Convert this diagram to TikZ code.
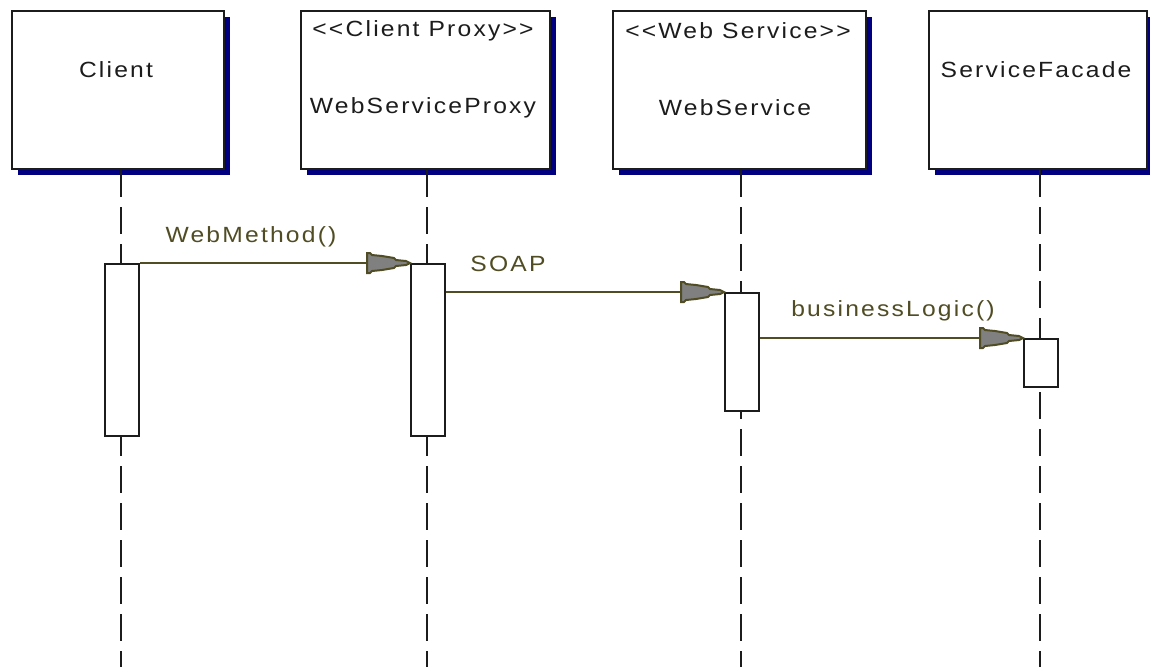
\documentclass[tikz,border=0pt]{standalone}
\usepackage{fontspec}
\newfontfamily\diafont[LetterSpace=10, FakeStretch=1.12]{Liberation Sans}
\usetikzlibrary{shadows}
\definecolor{shadowblue}{RGB}{0,0,128}
\definecolor{msgolive}{RGB}{80,77,36}
\definecolor{headgray}{RGB}{128,128,128}
\definecolor{ink}{RGB}{28,28,28}
\tikzset{
  objbox/.style={draw=ink, line width=2pt, fill=white, anchor=north west,
    inner sep=0pt, drop shadow={shadow xshift=6pt, shadow yshift=-6pt,
    fill=shadowblue, opacity=1}},
  objtext/.style={text=ink, font=\diafont\fontsize{22}{26}\selectfont, inner sep=0pt},
  msgtext/.style={text=msgolive, font=\diafont\fontsize{22}{26}\selectfont, inner sep=0pt},
  lifeline/.style={draw=ink, line width=2pt, dash pattern=on 27pt off 10pt},
  actbox/.style={draw=ink, line width=2pt, fill=white, anchor=north west,
    inner sep=0pt, minimum width=34pt},
  msgline/.style={draw=msgolive, line width=2pt},
  msghead/.pic={
    \filldraw[fill=headgray, draw=msgolive, line width=2pt, line join=miter]
      (0,0) -- (-4,-2) -- (-14,-3) -- (-16,-5) -- (-28,-7) -- (-38,-8)
      -- (-40,-10) -- (-43,-10) -- (-43,10) -- (-40,10) -- (-38,8)
      -- (-28,7) -- (-16,5) -- (-14,3) -- (-4,2) -- cycle;
  }
}
\begin{document}
\begin{tikzpicture}[x=1pt, y=-1pt]
\useasboundingbox[fill=white] (0,0) rectangle (1150,667);

% object heads
\node[objbox, minimum width=212pt, minimum height=158pt] (client) at (11,10) {};
\node[objbox, minimum width=249pt, minimum height=158pt] (proxy) at (300,10) {};
\node[objbox, minimum width=253pt, minimum height=158pt] (ws) at (612,10) {};
\node[objbox, minimum width=218pt, minimum height=158pt] (facade) at (928,10) {};

\node[objtext] (clientname) at (116,70) {Client};
\node[objtext] (proxystereo) at (423,31) {<<Client Proxy>>};
\node[objtext] (proxyname) at (423,108) {WebServiceProxy};
\node[objtext] (wsstereo) at (738,31) {<<Web Service>>};
\node[objtext] (wsname) at (735,108) {WebService};
\node[objtext] (facadename) at (1036,70) {ServiceFacade};

% lifeline ends at the bottom of the page
\coordinate (clientend) at (121,667);
\coordinate (proxyend) at (427,667);
\coordinate (wsend) at (741,667);
\coordinate (facadeend) at (1040,667);

\draw[lifeline] (clientend |- client.south) -- (clientend);
\draw[lifeline] (proxyend |- proxy.south) -- (proxyend);
\draw[lifeline] (wsend |- ws.south) -- (wsend);
\draw[lifeline] (facadeend |- facade.south) -- (facadeend);

% activation bars
\node[actbox, minimum height=172pt] (clientact) at (104,263) {};
\node[actbox, minimum height=172pt] (proxyact) at (410,263) {};
\node[actbox, minimum height=118pt] (wsact) at (724,292) {};
\node[actbox, minimum height=48pt] (facadeact) at (1023,338) {};

% messages
\draw[msgline] (clientact.north east) -- (proxyact.north west);
\pic at (proxyact.north west) {msghead};
\node[msgtext] (m1) at (251,237) {WebMethod()};

\coordinate (soapstart) at (proxyact.east |- wsact.north);
\draw[msgline] (soapstart) -- (wsact.north west);
\pic at (wsact.north west) {msghead};
\node[msgtext] (m2) at (508,264) {SOAP};

\coordinate (logicstart) at (wsact.east |- facadeact.north);
\draw[msgline] (logicstart) -- (facadeact.north west);
\pic at (facadeact.north west) {msghead};
\node[msgtext] (m3) at (893,311) {businessLogic()};
\end{tikzpicture}
\end{document}
